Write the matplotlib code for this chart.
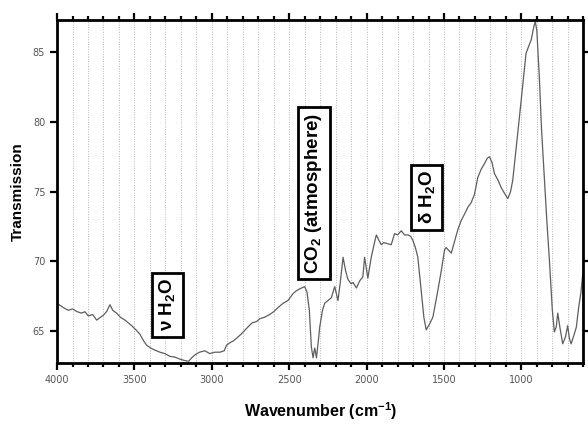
import matplotlib.pyplot as plt
from matplotlib.ticker import MultipleLocator

plt.rcParams["mathtext.fontset"] = "custom"
plt.rcParams["mathtext.rm"] = "Liberation Sans:bold"
plt.rcParams["mathtext.it"] = "Liberation Sans:bold"
plt.rcParams["mathtext.bf"] = "Liberation Sans:bold"

# Data (wavenumber in cm-1, transmission)
wavenumber = [4000, 3960, 3927, 3900, 3870, 3841, 3820, 3798, 3770, 3744,
              3720, 3701, 3680, 3658, 3640, 3615, 3590, 3561, 3540, 3518,
              3490, 3465, 3440, 3421, 3395, 3368, 3335, 3303, 3270, 3239,
              3205, 3174, 3150, 3130, 3110, 3080, 3045, 3013, 2981, 2948,
              2920, 2905, 2880, 2862, 2840, 2810, 2776, 2740, 2710, 2690,
              2660, 2626, 2600, 2572, 2540, 2508, 2475, 2454, 2430, 2400,
              2385, 2370, 2357, 2346, 2335, 2324, 2310, 2303, 2285, 2271,
              2250, 2228, 2206, 2185, 2170, 2152, 2135, 2120, 2100, 2088,
              2066, 2045, 2024, 2013, 1992, 1970, 1950, 1937, 1920, 1905,
              1890, 1873, 1841, 1819, 1800, 1776, 1755, 1733, 1715, 1701,
              1685, 1669, 1647, 1630, 1615, 1605, 1594, 1572, 1555, 1540,
              1515, 1497, 1486, 1470, 1453, 1430, 1410, 1390, 1367, 1345,
              1325, 1303, 1282, 1260, 1239, 1220, 1206, 1190, 1174, 1150,
              1131, 1110, 1088, 1070, 1056, 1035, 1013, 990, 970, 950,
              937, 920, 910, 900, 884, 870, 852, 835, 819, 800,
              787, 775, 765, 750, 733, 715, 701, 690, 679, 658,
              645, 630, 615, 600]
transmission = [67.0, 66.7, 66.5, 66.6, 66.4, 66.3, 66.4, 66.1, 66.2, 65.8,
                66.0, 66.15, 66.4, 66.9, 66.5, 66.3, 66.0, 65.8, 65.6, 65.4,
                65.1, 64.8, 64.3, 64.0, 63.8, 63.65, 63.5, 63.4, 63.2, 63.15,
                63.0, 62.9, 62.85, 63.1, 63.3, 63.5, 63.6, 63.4, 63.5, 63.5,
                63.6, 64.0, 64.2, 64.3, 64.5, 64.8, 65.2, 65.6, 65.7, 65.9,
                66.0, 66.2, 66.4, 66.7, 67.0, 67.2, 67.7, 67.9, 68.05, 68.2,
                67.8, 66.5, 63.9, 63.1, 63.8, 63.1, 64.5, 65.3, 66.5, 67.0,
                67.2, 67.4, 68.2, 67.2, 68.5, 70.3, 69.3, 68.7, 68.4, 68.5,
                68.1, 68.6, 68.9, 70.3, 68.8, 70.3, 71.3, 71.9, 71.5, 71.2,
                71.35, 71.3, 71.2, 72.0, 71.9, 72.2, 71.9, 71.9, 71.8, 71.5,
                71.0, 70.3, 67.9, 66.0, 65.1, 65.3, 65.5, 66.0, 67.0, 67.9,
                69.5, 70.8, 71.0, 70.8, 70.6, 71.5, 72.3, 72.9, 73.4, 73.9,
                74.2, 74.8, 76.0, 76.6, 77.0, 77.4, 77.5, 77.1, 76.3, 75.8,
                75.3, 74.9, 74.5, 75.0, 75.8, 78.0, 80.3, 82.8, 84.9, 85.5,
                85.85, 86.8, 87.2, 86.5, 83.2, 79.5, 76.0, 72.8, 70.1, 66.5,
                64.95, 65.3, 66.3, 65.2, 64.1, 64.6, 65.4, 64.5, 64.1, 64.8,
                65.3, 66.7, 67.8, 69.5]

# Band annotations
band_labels = ["\u03bd H$_2$O", "CO$_2$ (atmosphere)", "\u03b4 H$_2$O"]
band_x = [3287, 2342, 1613]
band_y = [66.9, 74.9, 74.6]

fig = plt.figure(figsize=(5.88, 4.24), dpi=100)
ax = fig.add_axes([0.097, 0.143, 0.895, 0.81])

ax.plot(wavenumber, transmission, color="#5e5e5e", lw=0.9)

ax.set_xlim(4000, 600)
ax.set_ylim(62.7, 87.3)
ax.xaxis.set_major_locator(MultipleLocator(500))
ax.xaxis.set_minor_locator(MultipleLocator(100))
ax.yaxis.set_major_locator(MultipleLocator(5))
ax.grid(True, axis="x", which="both", color="#b8b8b8", ls=(0, (1, 1.5)), lw=0.7)

for s in ax.spines.values():
    s.set_linewidth(2)
ax.tick_params(which="both", direction="out", top=True, right=True,
               width=1.6, colors="black", labelcolor="#555555", labelsize=7)
ax.tick_params(which="major", length=5)
ax.tick_params(which="minor", length=3)

lab_font = ["Liberation Sans", "DejaVu Sans"]
ax.set_ylabel("Transmission", fontsize=11, fontweight="bold", family=lab_font, labelpad=6)
ax.set_xlabel("Wavenumber (cm$^{-1}$)", fontsize=11.5, fontweight="bold",
              family=lab_font, labelpad=11)

for lab, x, y in zip(band_labels, band_x, band_y):
    ax.text(x, y, lab, rotation=90, ha="center", va="center", fontsize=13.5,
            fontweight="bold", family=lab_font,
            bbox=dict(boxstyle="square,pad=0.3", fc="white", ec="black", lw=2))

fig.savefig("out.png", dpi=100)
